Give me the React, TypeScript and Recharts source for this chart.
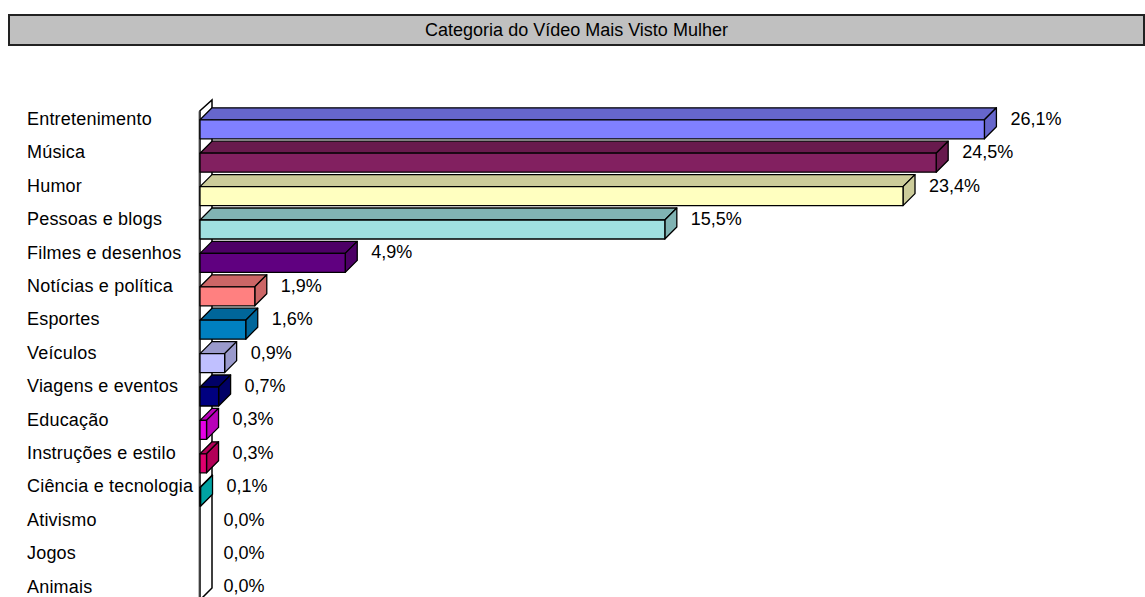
import React from 'react';
import { BarChart, Bar, XAxis, YAxis, ReferenceArea } from 'recharts';

// categorias e valores (% das mulheres)
const CATEGORIES = [
  'Entretenimento',
  'Música',
  'Humor',
  'Pessoas e blogs',
  'Filmes e desenhos',
  'Notícias e política',
  'Esportes',
  'Veículos',
  'Viagens e eventos',
  'Educação',
  'Instruções e estilo',
  'Ciência e tecnologia',
  'Ativismo',
  'Jogos',
  'Animais',
];
const VALUES = [26.1, 24.5, 23.4, 15.5, 4.9, 1.9, 1.6, 0.9, 0.7, 0.3, 0.3, 0.1, 0, 0, 0];
const X_DOMAIN: [number, number] = [0, 30];

const COLORS = [
  '#8080FF', '#822060', '#FFFFC0', '#A0E0E0', '#600080', '#FF8080', '#0080C0',
  '#C0C0FF', '#000080', '#E600E6', '#E0006E', '#00CCCC', '#FFFF00', '#800080', '#800000',
];

const FONT = '"Liberation Sans", Arial, sans-serif';
const DEPTH_X = 12;
const DEPTH_Y = 12;
const FRONT_H = 19;
const WALL_INSET = 2.5;

function darker(hex: string, f = 0.8) {
  const n = parseInt(hex.slice(1), 16);
  const r = Math.round(((n >> 16) & 255) * f);
  const g = Math.round(((n >> 8) & 255) * f);
  const b = Math.round((n & 255) * f);
  return `rgb(${r},${g},${b})`;
}

const formatPct = (v: number) => v.toFixed(1).replace('.', ',') + '%';

const chartData = CATEGORIES.map((name, i) => ({
  name,
  value: VALUES[i],
  color: COLORS[i],
}));

function Bar3D(props: any) {
  const { x, y, width, height, payload } = props;
  const center = y + height / 2;
  const top = center + 1;
  const left = x + WALL_INSET;
  const right = x + width;
  const dark = darker(payload.color);
  const label = (
    <text
      x={right + DEPTH_X + 14}
      y={center}
      dominantBaseline="central"
      fontFamily={FONT}
      fontSize={18}
      fill="#000"
    >
      {formatPct(payload.value)}
    </text>
  );
  if (payload.value <= 0) return <g>{label}</g>;
  const r = Math.max(right, left + 0.5);
  return (
    <g stroke="#000" strokeWidth={1.3} strokeLinejoin="round">
      <polygon
        points={`${left},${top} ${left + DEPTH_X},${top - DEPTH_Y} ${r + DEPTH_X},${top - DEPTH_Y} ${r},${top}`}
        fill={dark}
      />
      <polygon
        points={`${r},${top} ${r + DEPTH_X},${top - DEPTH_Y} ${r + DEPTH_X},${top - DEPTH_Y + FRONT_H} ${r},${top + FRONT_H}`}
        fill={dark}
      />
      <rect x={left} y={top} width={r - left} height={FRONT_H} fill={payload.color} />
      <g stroke="none">{label}</g>
    </g>
  );
}

// parede lateral 3D
function Wall(props: any) {
  const { x, y, height } = props;
  const fx = x + WALL_INSET;
  const bottom = y + height;
  const pts = `${fx},${y + 8.4} ${fx + DEPTH_X},${y - 2.3} ${fx + DEPTH_X},${bottom - 15.3} ${fx},${bottom - 3.3}`;
  return (
    <g>
      <polygon points={pts} fill="#fff" stroke="#000" strokeWidth={1.5} />
      <line x1={fx - 1.5} y1={y + 9} x2={fx - 1.5} y2={bottom} stroke="#bbb" strokeWidth={1} />
    </g>
  );
}

function CategoryTick(props: any) {
  const { y, payload } = props;
  return (
    <text
      x={27}
      y={y}
      dominantBaseline="central"
      fontFamily={FONT}
      fontSize={18}
      letterSpacing={0.2}
      fill="#000"
    >
      {payload.value}
    </text>
  );
}

export default function App() {
  return (
    <div style={{ position: 'relative', width: 1145, height: 597, overflow: 'hidden', background: '#fff' }}>
      <style>{`body{margin:0;}`}</style>
      <div
        style={{
          position: 'absolute',
          left: 8,
          top: 14,
          width: 1137,
          height: 32,
          boxSizing: 'border-box',
          border: '2px solid #222',
          background: '#C0C0C0',
          fontFamily: FONT,
          fontSize: 18,
          lineHeight: '28px',
          textAlign: 'center',
          color: '#000',
        }}
      >
        Categoria do Vídeo Mais Visto Mulher
      </div>
      <BarChart
        width={1145}
        height={610}
        data={chartData}
        layout="vertical"
        margin={{ top: 102.3, right: 43, bottom: 6.7, left: 0 }}
      >
        <XAxis type="number" domain={X_DOMAIN} hide allowDataOverflow />
        <YAxis
          type="category"
          dataKey="name"
          width={197.5}
          axisLine={false}
          tickLine={false}
          interval={0}
          tick={<CategoryTick />}
        />
        <ReferenceArea x1={0} x2={X_DOMAIN[1]} ifOverflow="visible" shape={<Wall />} />
        <Bar dataKey="value" barSize={FRONT_H} shape={<Bar3D />} isAnimationActive={false} />
      </BarChart>
    </div>
  );
}
